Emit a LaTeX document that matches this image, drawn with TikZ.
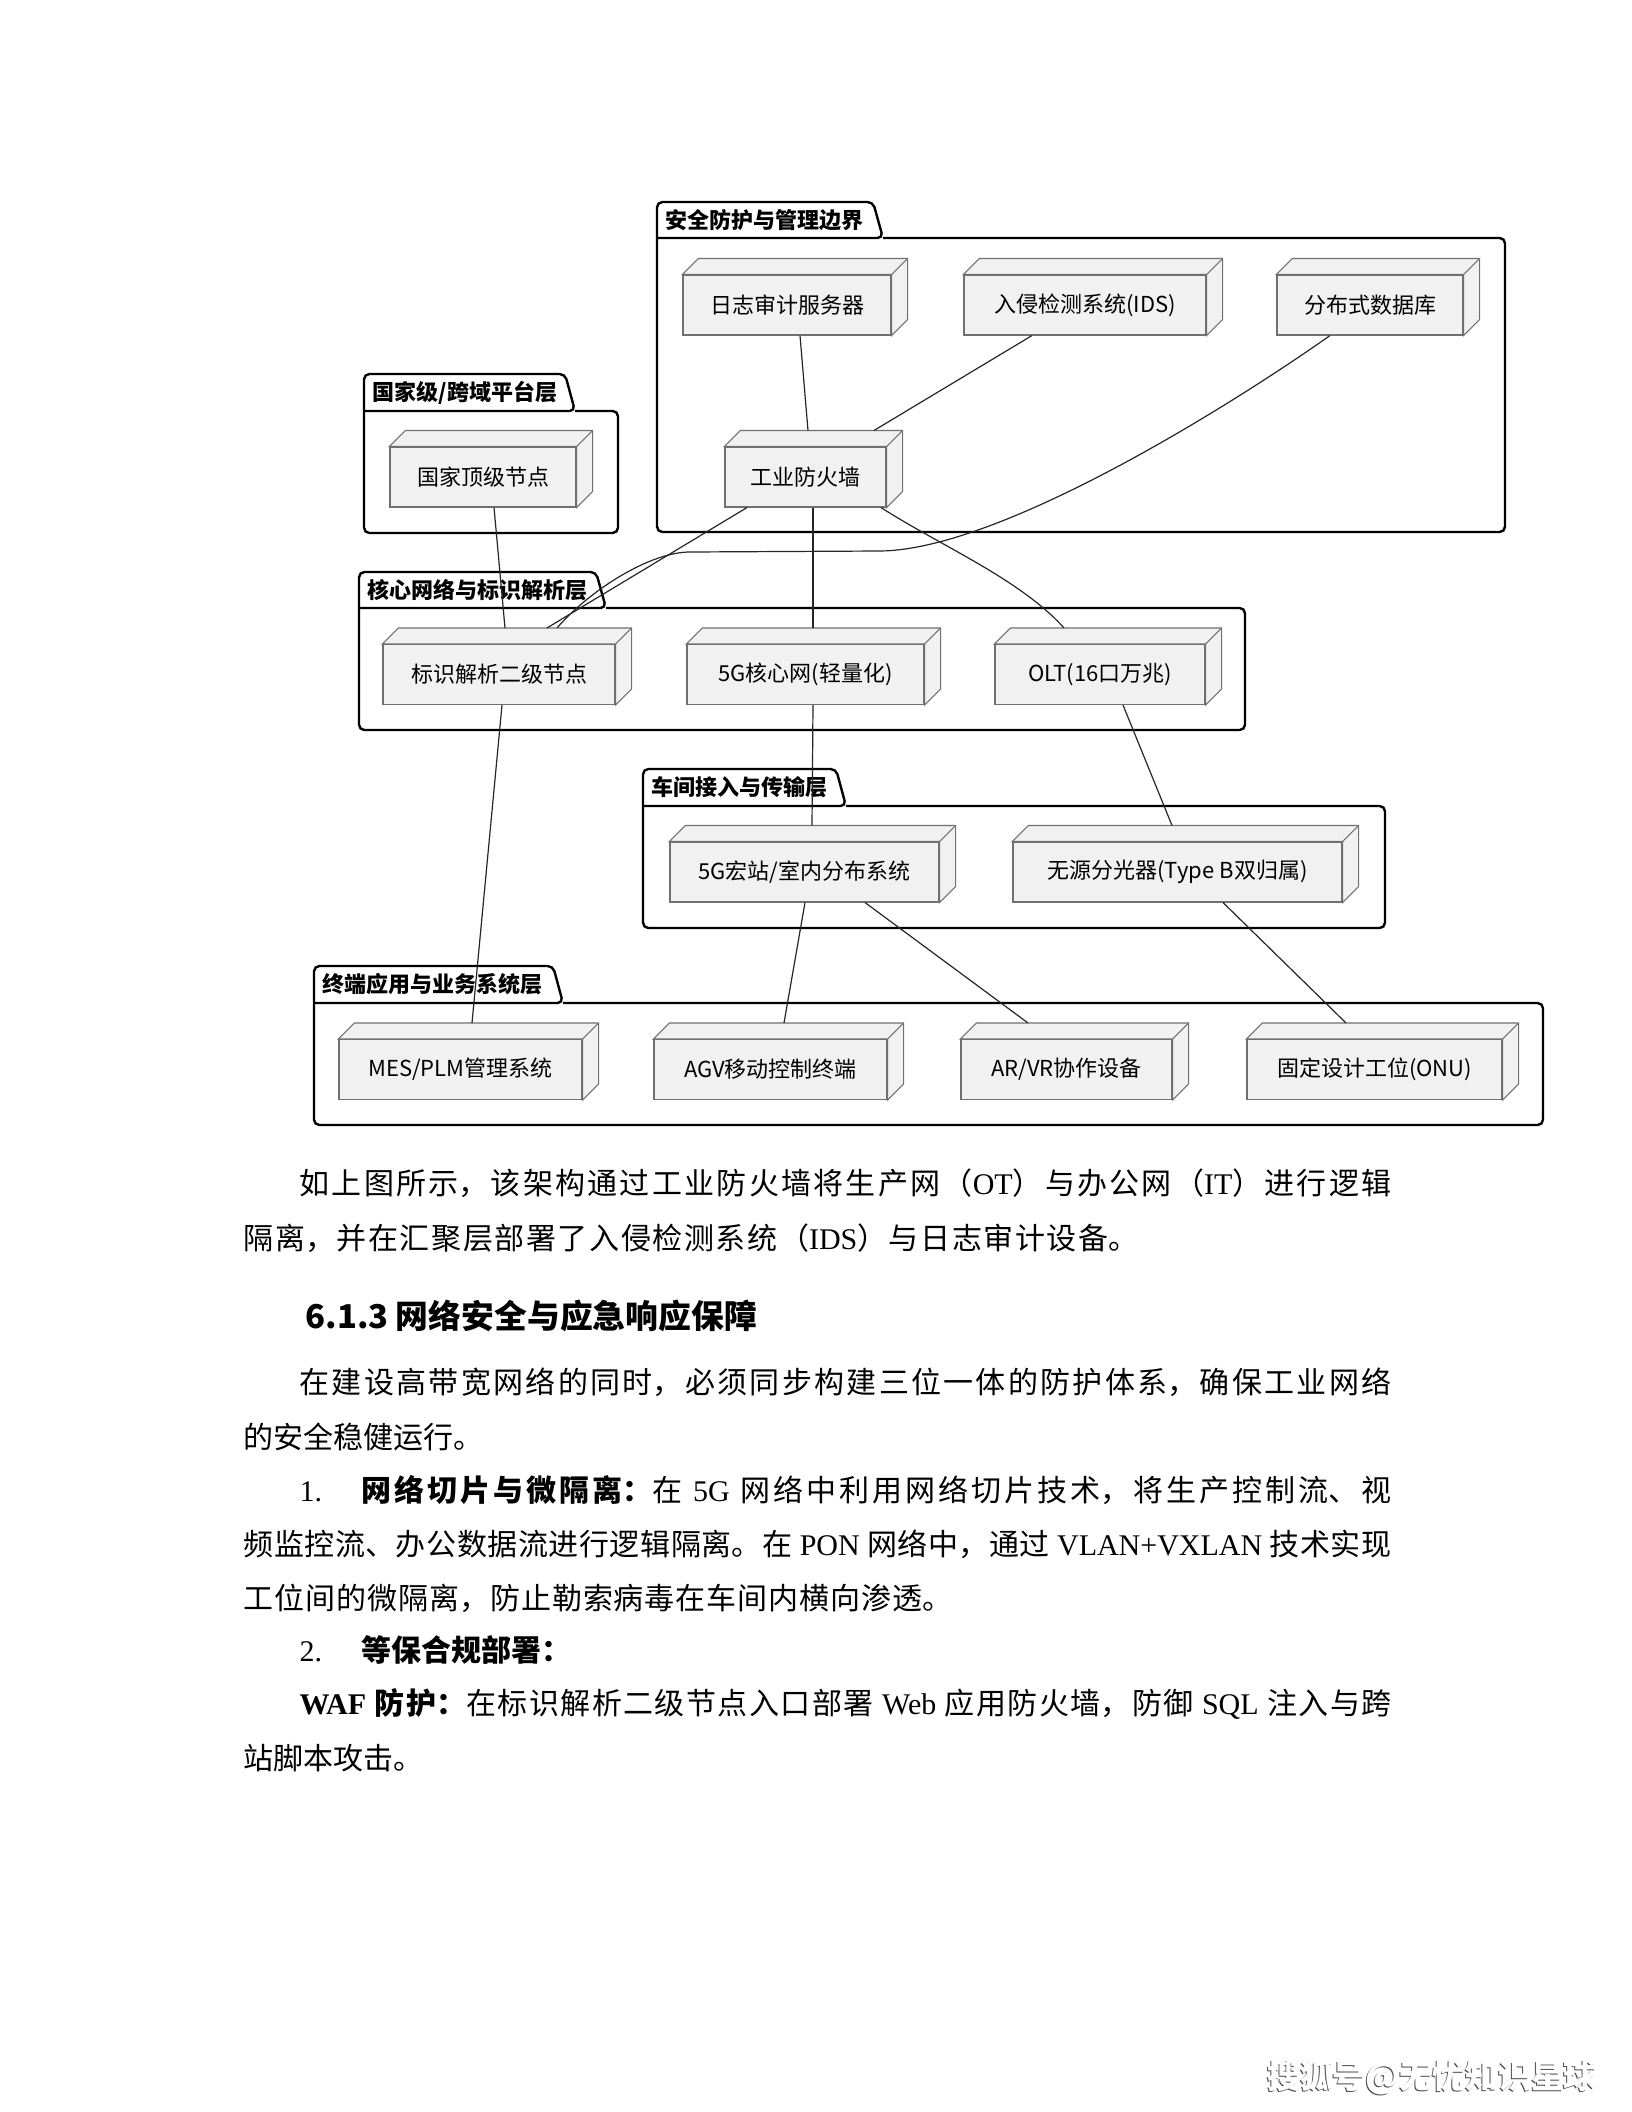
\documentclass[tikz,border=0pt]{standalone}
\usepackage{fontspec}
\setmainfont{Noto Sans CJK SC}
\newfontfamily\latinserif{Liberation Serif}
\XeTeXlinebreaklocale "zh"
\XeTeXlinebreakskip=0pt plus 1pt

\definecolor{devfill}{HTML}{F1F1F1}
\definecolor{devline}{HTML}{707070}
\newcommand\devfont{\fontsize{8.25pt}{9pt}\selectfont}
\newcommand\tabfont{\fontsize{8.25pt}{9pt}\selectfont\bfseries}
\newcommand\bodyfont{\fontsize{11.25pt}{12pt}\selectfont}
\newcommand\headfont{\fontsize{12.3pt}{14pt}\selectfont\bfseries}
\newcommand\lt[1]{{\latinserif #1}}
% 一行正文撑满给定宽度(单位: 像素)
\newcommand\spread[2]{\parbox{\dimexpr 0.375pt*#1\relax}{\tolerance=10000\hbadness=10000
  \parindent=0pt\parfillskip=0pt #2}}
\newcommand\numbox[1]{\leavevmode\hbox to \dimexpr 0.375pt*62\relax{\lt{#1}\hfil}}
% 分层框: 名称, 左, 标签顶, 框顶, 右, 底, 标签右端, 标签
\newcommand\layer[8]{%
  \draw[layerbox] (#7,#4) -- (#5,#4) -- (#5,#6) -- (#2,#6) -- (#2,#3) -- (#7-10,#3) -- (#7,#4) -- (#2,#4);
  \node[layertab] (#1) at (#2+8,{(#3+#4)/2}) {#8};
}

\tikzset{
  dev/.style={draw=devline, fill=devfill, line width=0.4pt, minimum width=#1*0.375pt,
    minimum height=60*0.375pt, inner sep=0pt, font=\devfont},
  face/.style={draw=devline, fill=devfill, line width=0.4pt},
  layerbox/.style={draw=black, line width=0.9pt, rounded corners=2pt},
  layertab/.style={font=\tabfont, anchor=west, inner sep=0pt},
  link/.style={draw=black!85, line width=0.45pt},
  bodyline/.style={anchor=west, inner sep=0pt, font=\bodyfont},
  wmark/.style={inner sep=0pt, font=\headfont},
}

\begin{document}
\begin{tikzpicture}[x=0.375pt, y=-0.375pt]
  \fill[white] (0,0) rectangle (1632,2112);
  \useasboundingbox (0,0) rectangle (1632,2112);

  % 分层框
  \layer{secL}{657}{202}{238}{1505}{532}{883}{安全防护与管理边界}
  \layer{natL}{364}{374}{411}{618}{533}{575}{国家级/跨域平台层}
  \layer{coreL}{359}{572}{608}{1245}{730}{606}{核心网络与标识解析层}
  \layer{shopL}{643}{769}{806}{1385}{928}{846}{车间接入与传输层}
  \layer{termL}{314}{966}{1003}{1543}{1125}{563}{终端应用与业务系统层}

  % 设备节点
  \node[dev=208] (log) at (787,305) {日志审计服务器};
  \node[dev=242] (ids) at (1085,305) {入侵检测系统(IDS)};
  \node[dev=186] (db) at (1370,305) {分布式数据库};
  \node[dev=161] (fw) at (805.5,477) {工业防火墙};
  \node[dev=186] (nat) at (483,477) {国家顶级节点};
  \node[dev=232] (idx) at (499,674.5) {标识解析二级节点};
  \node[dev=237] (core) at (805.5,674.5) {5G核心网(轻量化)};
  \node[dev=210] (olt) at (1100,674.5) {OLT(16口万兆)};
  \node[dev=269] (bs) at (804.5,872) {5G宏站/室内分布系统};
  \node[dev=329] (spl) at (1177.5,872) {无源分光器(Type B双归属)};
  \node[dev=243] (mes) at (460.5,1069.5) {MES/PLM管理系统};
  \node[dev=233] (agv) at (770.5,1069.5) {AGV移动控制终端};
  \node[dev=211] (ar) at (1066.5,1069.5) {AR/VR协作设备};
  \node[dev=255] (onu) at (1374.5,1069.5) {固定设计工位(ONU)};

  % 立体盒的顶面与侧面
  \foreach \n in {log,ids,db,fw,nat,idx,core,olt,bs,spl,mes,agv,ar,onu}{
    \filldraw[face] (\n.north west) -- ++(16,-16) -| ([shift={(16,-16)}]\n.south east)
      -- (\n.south east) -- (\n.north east) -- cycle;
    \draw[face] (\n.north east) -- ++(16,-16);
  }

  % 连线
  \draw[link] ([shift={(13,0)}]log.south) -- ([shift={(2.5,-16)}]fw.north);
  \draw[link] ([shift={(-53,0)}]ids.south) -- ([shift={(68.5,-16)}]fw.north);
  \draw[link] ([shift={(-40,0)}]db.south) .. controls (1230,406) and (1000,550) .. (880,551)
    -- (690,552) .. controls (650,552) and (590,590) .. ([shift={(58,-16)}]idx.north);
  \draw[link] ([shift={(-58.5,0)}]fw.south) -- ([shift={(48,-16)}]idx.north);
  \draw[link] ([shift={(7.5,0)}]fw.south) -- ([shift={(7.5,-16)}]core.north);
  \draw[link] ([shift={(75.5,0)}]fw.south) .. controls +(59,38) and +(-44,-49) .. ([shift={(-36,-16)}]olt.north);
  \draw[link] ([shift={(11,0)}]nat.south) -- ([shift={(6,-16)}]idx.north);
  \draw[link] ([shift={(3,0)}]idx.south) -- ([shift={(11.5,-16)}]mes.north);
  \draw[link] ([shift={(7.5,0)}]core.south) -- ([shift={(7.5,-16)}]bs.north);
  \draw[link] ([shift={(23,0)}]olt.south) -- ([shift={(-5.5,-16)}]spl.north);
  \draw[link] ([shift={(0.5,0)}]bs.south) -- ([shift={(13.5,-16)}]agv.north);
  \draw[link] ([shift={(60.5,0)}]bs.south) -- ([shift={(-38.5,-16)}]ar.north);
  \draw[link] ([shift={(45.5,0)}]spl.south) -- ([shift={(-28.5,-16)}]onu.north);

  % 正文
  \node[bodyline] (t1) at (299,1183) {\spread{1092}{如上图所示，该架构通过工业防火墙将生产网（\lt{OT}）与办公网（\lt{IT}）进行逻辑}};
  \node[bodyline] (t2) at (243,1238) {\spread{895}{隔离，并在汇聚层部署了入侵检测系统（\lt{IDS}）与日志审计设备。}};
  \node[bodyline, font=\headfont] (h613) at (305,1316) {6.1.3 网络安全与应急响应保障};
  \node[bodyline] (t3) at (299,1382) {\spread{1092}{在建设高带宽网络的同时，必须同步构建三位一体的防护体系，确保工业网络}};
  \node[bodyline] (t4) at (243,1437) {的安全稳健运行。};
  \node[bodyline] (t5) at (299,1490) {\spread{1092}{\numbox{1.}{\bfseries 网络切片与微隔离：}在 \lt{5G} 网络中利用网络切片技术，将生产控制流、视}};
  \node[bodyline] (t6) at (243,1544) {\spread{1148}{频监控流、办公数据流进行逻辑隔离。在 \lt{PON} 网络中，通过 \lt{VLAN+VXLAN} 技术实现}};
  \node[bodyline] (t7) at (243,1598) {\spread{709}{工位间的微隔离，防止勒索病毒在车间内横向渗透。}};
  \node[bodyline] (t8) at (299,1650) {\numbox{2.}{\bfseries 等保合规部署：}};
  \node[bodyline] (t9) at (299,1704) {\spread{1092}{{\bfseries \lt{WAF} 防护：}在标识解析二级节点入口部署 \lt{Web} 应用防火墙，防御 \lt{SQL} 注入与跨}};
  \node[bodyline] (t10) at (243,1758) {站脚本攻击。};

  % 水印
  \node[wmark, text=black!70] (wmshadow) at (1431,2079) {搜狐号@无忧知识星球};
  \node[wmark, text=white] (wm) at (1432,2078) {搜狐号@无忧知识星球};
\end{tikzpicture}
\end{document}
